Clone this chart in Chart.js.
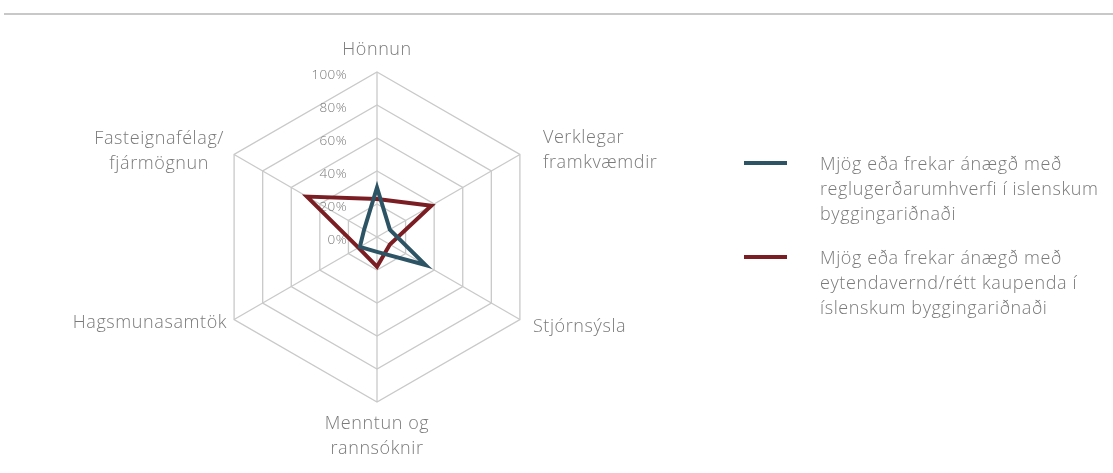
<!DOCTYPE html>
<html>
<head>
<meta charset="utf-8">
<script src="https://cdn.jsdelivr.net/npm/chart.js@4"></script>
<style>
  html, body { margin: 0; padding: 0; background: #fff; }
  body { width: 1113px; height: 473px; position: relative; overflow: hidden; font-family: "Open Sans", Lato, sans-serif; }
  #topRule { position: absolute; left: 4px; right: 0; top: 13px; height: 2px; background: #c8c8c8; }
  #chart { position: absolute; left: 0; top: 0; }
  .legend-item { position: absolute; left: 744px; }
  .legend-swatch { position: absolute; left: 0; width: 43px; height: 4px; }
  .legend-text { position: absolute; left: 76px; white-space: nowrap; color: #7a7a7a; font-size: 18px; font-weight: 300; line-height: 25px; letter-spacing: 0.6px; }
</style>
</head>
<body>
<div id="topRule"></div>
<canvas id="chart" width="1113" height="473"></canvas>
<div id="legend"></div>
<script>
// axes of the radar, clockwise from the top
const categories = [
  "Hönnun",
  ["Verklegar", "framkvæmdir"],
  "Stjórnsýsla",
  ["Menntun og", "rannsóknir"],
  "Hagsmunasamtök",
  ["Fasteignafélag/", "fjármögnun"],
];

// % satisfied
const regulationValues = [30, 9, 34, 9, 12, 9];
const consumerValues = [23, 38, 9, 18, 13, 49];

const seriesLabels = [
  ["Mjög eða frekar ánægð með", "reglugerðarumhverfi í islenskum", "byggingariðnaði"],
  ["Mjög eða frekar ánægð með", "eytendavernd/rétt kaupenda í", "íslenskum byggingariðnaði"],
];
const seriesColors = ["#2d5465", "#7a1e23"];

const tickValues = [0, 20, 40, 60, 80, 100];

const TEXT_COLOR = "#7a7a7a";
const FONT = "'Open Sans', Lato, sans-serif";

// Excel puts the labels of each axis a bit differently, so nudge them per spoke
const labelPlacement = [
  { align: "center", dx: 0, dy: -22, mode: "first" },
  { align: "left", dx: 23, dy: -4, mode: "block" },
  { align: "left", dx: 13, dy: 7, mode: "block" },
  { align: "center", dx: 0, dy: 22, mode: "first" },
  { align: "right", dx: -7, dy: 3, mode: "block" },
  { align: "rightBlock", dx: -10, dy: -3, mode: "block" },
];

const tickLabelsPlugin = {
  id: "tickLabels",
  beforeDatasetsDraw(chart) {
    const scale = chart.scales.r;
    const ctx = chart.ctx;
    ctx.save();
    ctx.font = `300 13.5px ${FONT}`;
    ctx.letterSpacing = "0.4px";
    ctx.fillStyle = TEXT_COLOR;
    ctx.textAlign = "right";
    ctx.textBaseline = "middle";
    tickValues.forEach((v) => {
      const p = scale.getPointPositionForValue(0, v);
      ctx.fillText(v + "%", p.x - 30, p.y + 3);
    });
    ctx.restore();
  },
};

const pointLabelsPlugin = {
  id: "spokeLabels",
  afterDraw(chart) {
    const scale = chart.scales.r;
    const ctx = chart.ctx;
    const lineHeight = 25;
    ctx.save();
    ctx.font = `300 18px ${FONT}`;
    ctx.letterSpacing = "0.6px";
    ctx.fillStyle = TEXT_COLOR;
    ctx.textBaseline = "middle";
    categories.forEach((cat, i) => {
      const lines = Array.isArray(cat) ? cat : [cat];
      const v = scale.getPointPosition(i, scale.drawingArea);
      const pl = labelPlacement[i];
      let y0;
      if (pl.mode === "first") y0 = v.y + pl.dy;
      else y0 = v.y + pl.dy - ((lines.length - 1) * lineHeight) / 2;
      const x = v.x + pl.dx;
      if (pl.align === "rightBlock") {
        const w = Math.max(...lines.map((l) => ctx.measureText(l).width));
        ctx.textAlign = "center";
        lines.forEach((l, k) => ctx.fillText(l, x - w / 2, y0 + k * lineHeight));
      } else {
        ctx.textAlign = pl.align;
        lines.forEach((l, k) => ctx.fillText(l, x, y0 + k * lineHeight));
      }
    });
    ctx.restore();
  },
};

const chart = new Chart(document.getElementById("chart"), {
  type: "radar",
  data: {
    labels: categories,
    datasets: [
      { label: seriesLabels[0].join(" "), data: regulationValues, borderColor: seriesColors[0] },
      { label: seriesLabels[1].join(" "), data: consumerValues, borderColor: seriesColors[1] },
    ],
  },
  options: {
    responsive: false,
    animation: false,
    devicePixelRatio: 1,
    layout: { padding: { left: 212, right: 571, top: 72, bottom: 71 } },
    elements: {
      line: { borderWidth: 4, tension: 0, fill: false, borderJoinStyle: "miter" },
      point: { radius: 0, hoverRadius: 0 },
    },
    plugins: { legend: { display: false }, tooltip: { enabled: false } },
    scales: {
      r: {
        min: 0,
        max: 100,
        ticks: { stepSize: 20, display: false },
        grid: { color: "#c9c9c9", lineWidth: 1.3 },
        angleLines: { color: "#c9c9c9", lineWidth: 1.3 },
        pointLabels: { display: false },
      },
    },
  },
  plugins: [tickLabelsPlugin, pointLabelsPlugin],
});

// html legend on the right
const legendEl = document.getElementById("legend");
const legendTops = [163, 257];
chart.data.datasets.forEach((ds, i) => {
  const item = document.createElement("div");
  item.className = "legend-item";
  item.style.top = legendTops[i] + "px";
  const sw = document.createElement("div");
  sw.className = "legend-swatch";
  sw.style.background = ds.borderColor;
  sw.style.top = "-2px";
  const txt = document.createElement("div");
  txt.className = "legend-text";
  txt.style.top = "-12.5px";
  txt.innerHTML = seriesLabels[i].join("<br>");
  item.appendChild(sw);
  item.appendChild(txt);
  legendEl.appendChild(item);
});
</script>
</body>
</html>
